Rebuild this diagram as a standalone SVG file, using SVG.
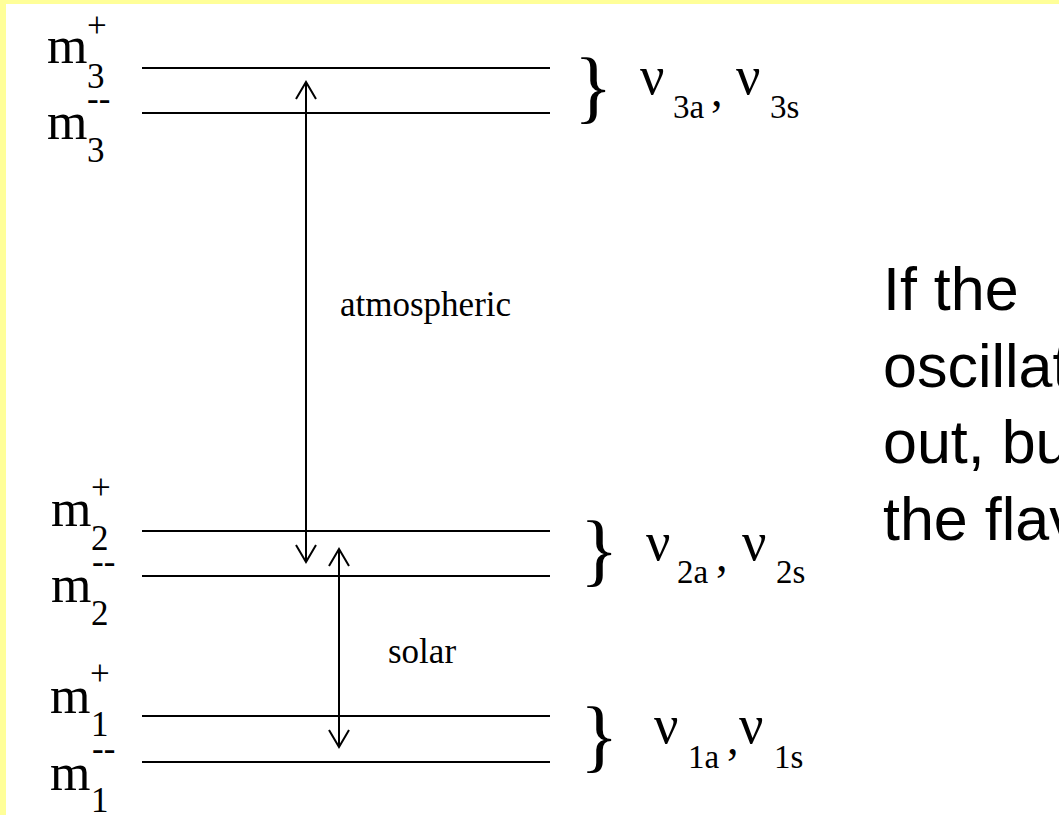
<svg xmlns="http://www.w3.org/2000/svg" width="1059" height="815" viewBox="0 0 1059 815">
<style>
.lvl{stroke:#000;stroke-width:2;fill:none}
.arr{stroke:#000;stroke-width:2;fill:none}
.m{font-family:"Liberation Serif","Times New Roman",serif;font-size:52px;fill:#000}
.s{font-family:"Liberation Serif","Times New Roman",serif;font-size:35px;fill:#000}
.ns{font-family:"Liberation Serif","Times New Roman",serif;font-size:33px;fill:#000}
.nu{font-family:"Liberation Serif","Times New Roman",serif;font-size:54px;fill:#000}
.cm{font-family:"Liberation Serif","Times New Roman",serif;font-size:46px;fill:#000}
.br{font-family:"Liberation Serif","Times New Roman",serif;font-size:80px;fill:#000}
.lab{font-family:"Liberation Serif","Times New Roman",serif;font-size:35px;fill:#000}
.body{font-family:"Liberation Sans",Arial,sans-serif;font-size:61px;fill:#000}
</style>
<defs>
<marker id="head" viewBox="-18 -12 20 24" refX="0" refY="0" markerWidth="20" markerHeight="24" markerUnits="userSpaceOnUse" orient="auto-start-reverse" overflow="visible">
<path d="M-17,-10 L0,0 L-17,10" fill="none" stroke="#000" stroke-width="2"/>
</marker>
</defs>
<rect x="0" y="0" width="1059" height="815" fill="#fff"/>
<rect x="0" y="0" width="6" height="815" fill="#FFFF99"/>
<rect x="0" y="0" width="1059" height="4" fill="#FFFF99"/>

<g id="level-m3p">
<line class="lvl" x1="142" y1="68" x2="550" y2="68"/>
<text class="m" x="47" y="63">m</text><text class="s" x="87" y="37">+</text><text class="s" x="87" y="88">3</text>
</g>
<g id="level-m3m">
<line class="lvl" x1="142" y1="113" x2="550" y2="113"/>
<text class="m" x="47" y="139">m</text><text class="s" x="87" y="110">--</text><text class="s" x="87" y="162">3</text>
</g>
<g id="level-m2p">
<line class="lvl" x1="142" y1="531" x2="550" y2="531"/>
<text class="m" x="51" y="526">m</text><text class="s" x="91" y="499">+</text><text class="s" x="91" y="550">2</text>
</g>
<g id="level-m2m">
<line class="lvl" x1="142" y1="576" x2="550" y2="576"/>
<text class="m" x="51" y="602">m</text><text class="s" x="92" y="573">--</text><text class="s" x="91" y="625">2</text>
</g>
<g id="level-m1p">
<line class="lvl" x1="142" y1="716" x2="550" y2="716"/>
<text class="m" x="50" y="713">m</text><text class="s" x="90" y="685">+</text><text class="s" x="91" y="736">1</text>
</g>
<g id="level-m1m">
<line class="lvl" x1="142" y1="762" x2="550" y2="762"/>
<text class="m" x="50" y="790">m</text><text class="s" x="92" y="760">--</text><text class="s" x="91" y="812">1</text>
</g>

<g id="pair-3">
<text class="br" x="574" y="113">}</text>
<text class="nu" x="640" y="94">ν</text><text class="ns" x="673" y="118">3a</text>
<text class="cm" x="711" y="106">,</text>
<text class="nu" x="736" y="94">ν</text><text class="ns" x="770" y="118">3s</text>
</g>
<g id="pair-2">
<text class="br" x="580" y="576">}</text>
<text class="nu" x="646" y="560">ν</text><text class="ns" x="677" y="583">2a</text>
<text class="cm" x="716" y="571">,</text>
<text class="nu" x="742" y="560">ν</text><text class="ns" x="776" y="583">2s</text>
</g>
<g id="pair-1">
<text class="br" x="580" y="762">}</text>
<text class="nu" x="654" y="743">ν</text><text class="ns" x="688" y="768">1a</text>
<text class="cm" x="727" y="754">,</text>
<text class="nu" x="739" y="743">ν</text><text class="ns" x="774" y="768">1s</text>
</g>

<g id="connectors">
<line class="arr" x1="306" y1="82" x2="306" y2="562" marker-start="url(#head)" marker-end="url(#head)"/>
<line class="arr" x1="339" y1="549" x2="339" y2="747" marker-start="url(#head)" marker-end="url(#head)"/>
</g>
<g id="labels">
<text class="lab" x="340" y="316">atmospheric</text>
<text class="lab" x="388" y="663">solar</text>
</g>
<g id="note">
<text class="body" x="883" y="310">If the</text>
<text class="body" x="883" y="387">oscillat</text>
<text class="body" x="883" y="463">out, bu</text>
<text class="body" x="883" y="540">the flav</text>
</g>
</svg>
